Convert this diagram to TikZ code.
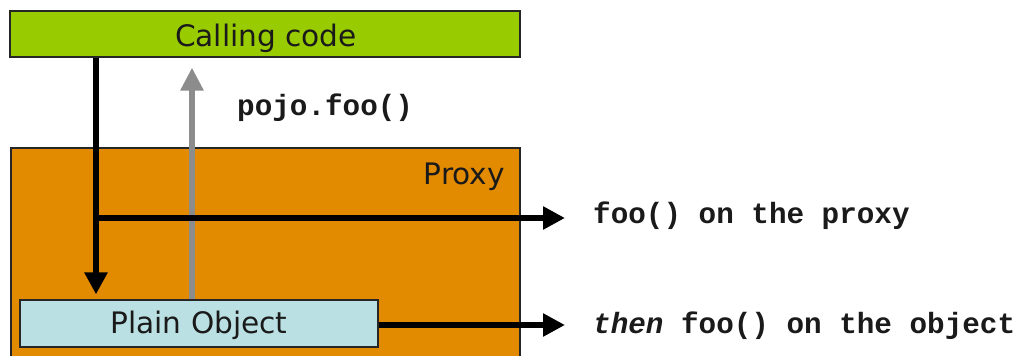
\documentclass[tikz,border=0pt]{standalone}
\usepackage{fontspec}
\setmainfont{DejaVu Sans}
\newfontfamily\codefont{Liberation Mono}
\usetikzlibrary{arrows.meta,calc}
\definecolor{ccgreen}{HTML}{99CC00}
\definecolor{pxorange}{HTML}{E38B00}
\definecolor{pobj}{HTML}{BBE0E3}
\definecolor{arrgray}{HTML}{8C8C8C}
\definecolor{txt}{HTML}{1A1A1A}
\tikzset{
  box/.style={draw=black!85, line width=1.2pt, rectangle, inner sep=0pt},
  sanslabel/.style={font=\fontsize{29.6}{31}\selectfont, text=txt, inner sep=0pt},
  codelabel/.style={font=\codefont\bfseries\fontsize{29.3}{31}\selectfont, text=txt, inner sep=0pt},
  blk/.style={line width=6pt, black, -{Triangle[width=22pt,length=22pt]}},
  gry/.style={line width=6pt, arrgray, -{Triangle[width=22pt,length=23pt]}},
}
\begin{document}
\begin{tikzpicture}[x=1pt,y=-1pt]
\useasboundingbox (0,0) rectangle (1018,356);
\clip (0,0) rectangle (1018,356);
\fill[white] (0,0) rectangle (1018,356);
% boxes
\node[box, fill=pxorange, minimum width=509pt, minimum height=214pt] (proxy) at (265.5,255) {};
\node[box, fill=ccgreen, minimum width=510pt, minimum height=46pt] (cc) at (265,34) {};
\node[sanslabel, anchor=base] (cctext) at (266,46) {Calling code};
\node[sanslabel, anchor=base east] (proxytext) at (505,184) {Proxy};
\node[box, fill=pobj, minimum width=358pt, minimum height=47pt] (plain) at (199,323.5) {};
\node[sanslabel, anchor=base] (plaintext) at (199,333) {Plain Object};
% coordinates
\coordinate (bx) at (96,0);
\coordinate (gx) at (192,0);
\coordinate (br) at (96,218);
\coordinate (t1) at (565,218);
\coordinate (t2) at (565,325);
% connectors
\draw[gry, shorten >=10pt] (gx |- plain.north) -- (gx |- cc.south);
\draw[blk, shorten >=5pt] (bx |- cc.south) -- (bx |- plain.north);
\draw[blk] ([xshift=-3pt]br) -- (t1);
\draw[blk] (plain.east |- t2) -- (t2);
% labels
\node[codelabel, anchor=base west] (pojo) at (237,115) {pojo.foo()};
\node[codelabel, anchor=base west] (l1) at (593,223) {foo() on the proxy};
\node[codelabel, anchor=base west] (l2) at (593,333) {\itshape then\upshape{} foo() on the object};
\end{tikzpicture}
\end{document}
